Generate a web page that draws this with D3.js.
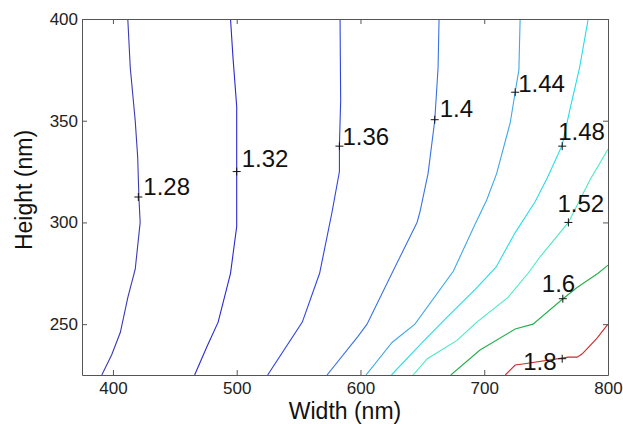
<!DOCTYPE html>
<html lang="en">
<head>
<meta charset="UTF-8">
<title>Width vs Height contours</title>
<script src="https://d3js.org/d3.v7.min.js"></script>
<style>
    body { margin: 0; background: #fff; }
    svg { font-family: "Liberation Sans", Arial, sans-serif; }
    .contour { fill: none; stroke-width: 1.1px; }
    .axis path, .axis line { stroke: #555; }
    .axis text { font-size: 17px; fill: #222; }
    .clabel { font-size: 24px; fill: #111; }
    .cross { stroke: #111; stroke-width: 1px; }
    .title { font-size: 23px; fill: #111; }
</style>
</head>
<body>
<svg id="chart" width="623" height="424"></svg>
<script>
// contour levels and their colours
var levels = ["1.28", "1.32", "1.36", "1.4", "1.44", "1.48", "1.52", "1.6", "1.8"];
var levelColors = ["#3a3ab4", "#2a2ad0", "#2f45e0", "#3a72e4", "#3ea8e6", "#28dde6", "#48eac4", "#22b04a", "#cc2a2a"];

// contour polylines, [width nm, height nm]
var c128 = [[412,400],[414,376],[418,350],[420,332],[421,312],[422,300],[418,277],[412,263],[406,246],[399,235],[391,225]];
var c132 = [[495,400],[497,381],[500,357],[500,325],[500,298],[495,275],[485,251],[476,239],[466,225]];
var c136 = [[583.5,400],[584,360],[583,338],[583,325],[577,305],[567,275],[553,251],[525,225]];
var c140 = [[663.5,400],[662.7,376],[660,350],[654.6,324],[648,305],[645.7,300],[629.5,280],[605.3,250],[598,244],[573,225]];
var c144 = [[729,400],[728,375],[725,364],[721,349],[710,324],[702,311],[692.5,299],[675,276],[644,250],[625.5,241],[604.5,225]];
var c148 = [[784,400],[777,376],[769,355],[763,338],[751,322],[741,310],[725,295],[709.5,278],[692.5,267],[670,253.5],[650,241],[625,225]];
var c152 = [[800,336],[785.5,321],[768,300],[745,283],[735.4,275],[719,263],[694,251],[678,242],[654,233],[642.5,225]];
var c160 = [[800,279],[792,275],[775,268],[763.6,262.5],[739.4,250],[725,247.6],[696.6,237.3],[673,225]];
var c180 = [[800,250],[791,243],[779,235.3],[775,233.8],[768,233.8],[731.3,230.4],[725,229.9],[717,225]];
var contourLines = [c128, c132, c136, c140, c144, c148, c152, c160, c180];

// label anchor points ("+" markers)
var labelPoints = [[420.5,312.5],[500,325],[583,337.5],[660,350.5],[725,364],[763,337.5],[768,300],[763.5,262.5],[763,233]];

var xTicks = [400, 500, 600, 700, 800];
var yTicks = [250, 300, 350, 400];

var configuration = {
    "left": 82,
    "right": 608,
    "top": 19,
    "bottom": 375,
    "tick_size": 5,
    // text offsets from the "+" marker, pixels
    "label_offsets": [[5,-2],[5,-5],[3,-1],[5,-3],[3,0],[-4,-6],[-11,-10],[-21,-7],[-39,11]]
};

var svg = d3.select("#chart");
svg.append("rect").attr("width", 623).attr("height", 424).attr("fill", "#fff");

var xScale = d3.scaleLinear().domain([375, 800]).range([configuration.left, configuration.right]);
var yScale = d3.scaleLinear().domain([225, 400]).range([configuration.bottom, configuration.top]);

svg.append("clipPath").attr("id", "plotClip")
    .append("rect")
    .attr("x", configuration.left).attr("y", configuration.top)
    .attr("width", configuration.right - configuration.left)
    .attr("height", configuration.bottom - configuration.top);

var lineShaper = d3.line()
    .x(function (d) { return xScale(d[0]); })
    .y(function (d) { return yScale(d[1]); });

//draw contours
var g = svg.append("g").attr("clip-path", "url(#plotClip)");
g.selectAll("path.contour")
    .data(contourLines)
    .enter()
    .append("path")
    .attr("class", "contour")
    .attr("stroke", function (d, i) { return levelColors[i]; })
    .attr("d", lineShaper);

//axes, ticks pointing inwards on all four sides
var ts = configuration.tick_size;
svg.append("g").attr("class", "axis")
    .attr("transform", "translate(0," + configuration.bottom + ")")
    .call(d3.axisBottom(xScale).tickValues(xTicks).tickSizeInner(-ts).tickSizeOuter(0).tickPadding(7));
svg.append("g").attr("class", "axis")
    .attr("transform", "translate(0," + configuration.top + ")")
    .call(d3.axisTop(xScale).tickValues(xTicks).tickSizeInner(-ts).tickSizeOuter(0).tickFormat(""));
svg.append("g").attr("class", "axis")
    .attr("transform", "translate(" + configuration.left + ",0)")
    .call(d3.axisLeft(yScale).tickValues(yTicks).tickSizeInner(-ts).tickSizeOuter(0).tickPadding(4));
svg.append("g").attr("class", "axis")
    .attr("transform", "translate(" + configuration.right + ",0)")
    .call(d3.axisRight(yScale).tickValues(yTicks).tickSizeInner(-ts).tickSizeOuter(0).tickFormat(""));
svg.selectAll(".axis text").attr("font-family", null).attr("font-size", null);

//contour labels
var labels = svg.append("g");
labelPoints.forEach(function (p, i) {
    var x = xScale(p[0]), y = yScale(p[1]);
    labels.append("path")
        .attr("class", "cross")
        .attr("d", "M" + (x - 4) + "," + y + "H" + (x + 4) + "M" + x + "," + (y - 4) + "V" + (y + 4));
    labels.append("text")
        .attr("class", "clabel")
        .attr("x", x + configuration.label_offsets[i][0])
        .attr("y", y + configuration.label_offsets[i][1])
        .text(levels[i]);
});

//axis titles
svg.append("text").attr("class", "title")
    .attr("x", (configuration.left + configuration.right) / 2)
    .attr("y", 419)
    .attr("text-anchor", "middle")
    .text("Width (nm)");
svg.append("text").attr("class", "title")
    .attr("transform", "translate(32,190) rotate(-90)")
    .attr("text-anchor", "middle")
    .text("Height (nm)");
</script>
</body>
</html>
